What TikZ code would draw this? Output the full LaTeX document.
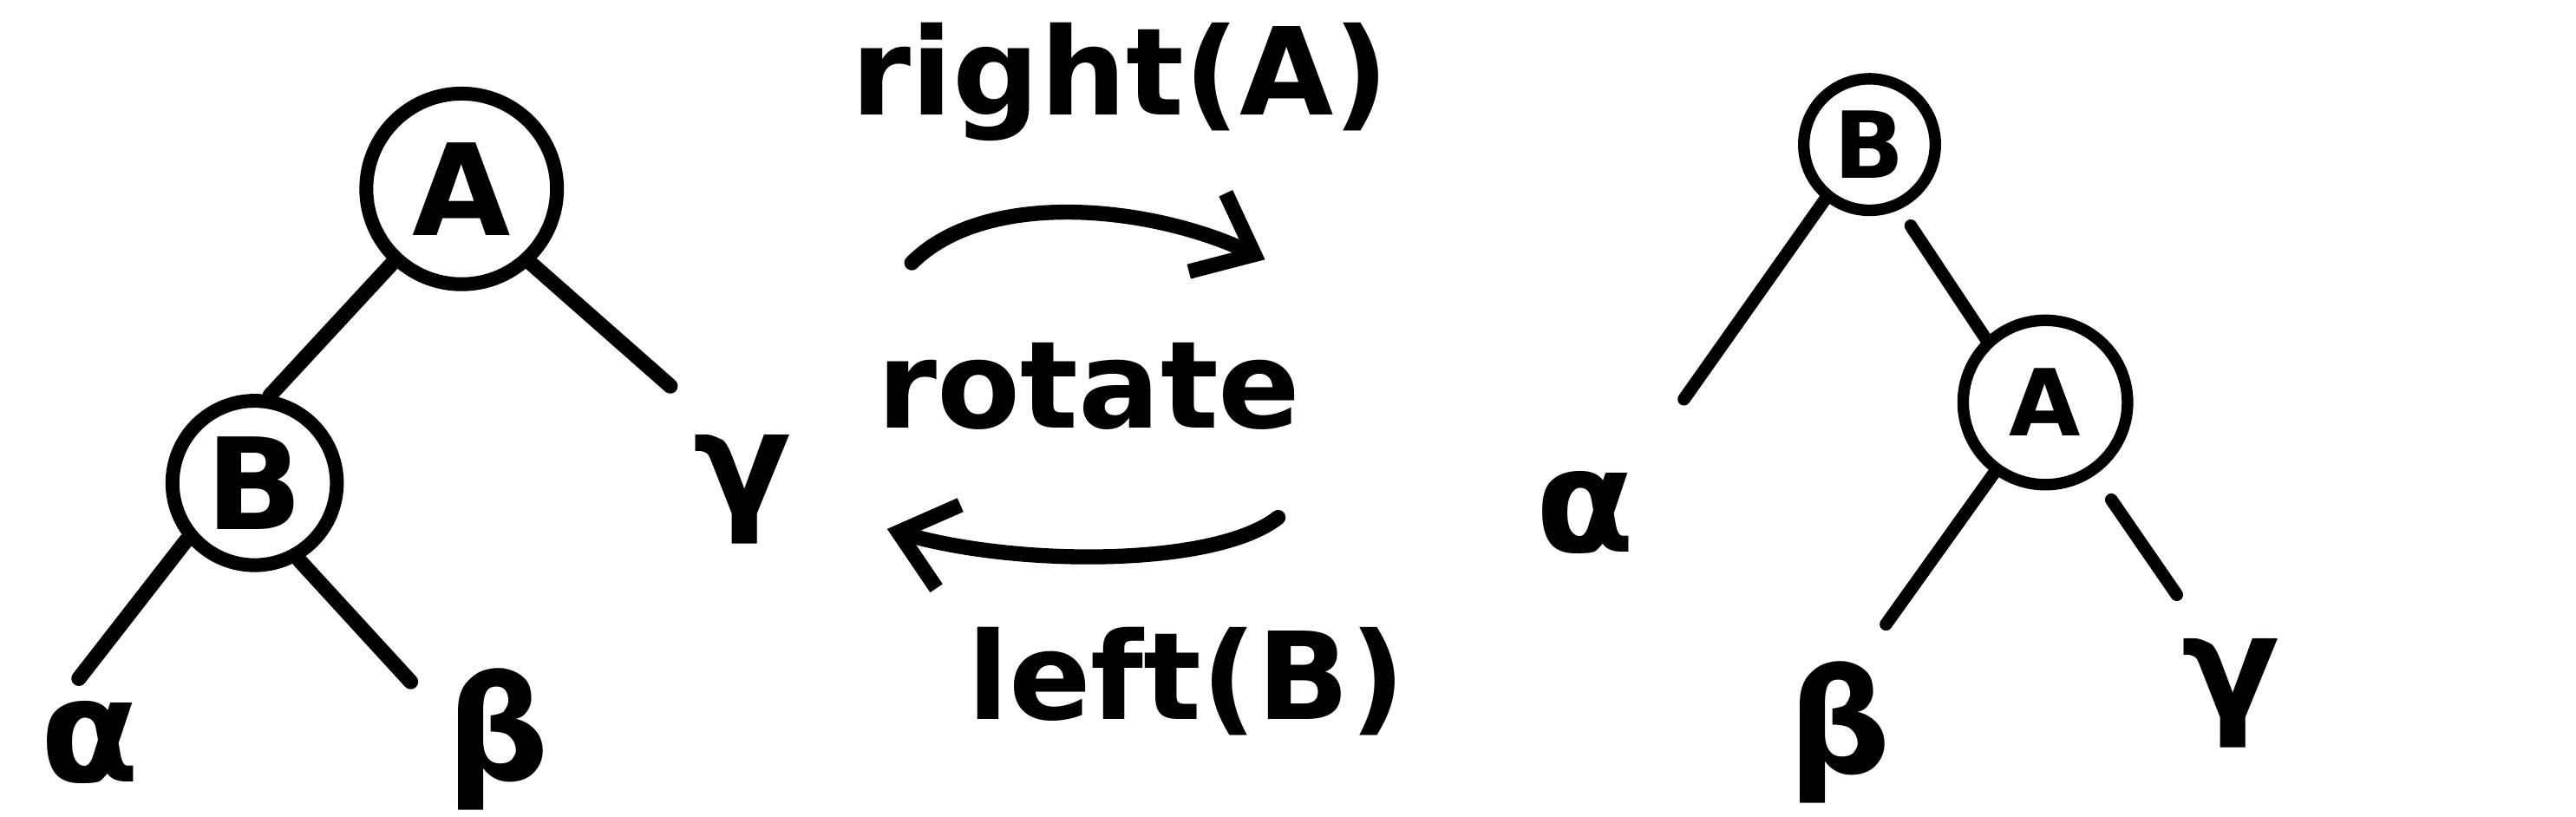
\documentclass[tikz,border=0pt]{standalone}
\usepackage{fontspec}
\setmainfont{DejaVu Sans}
\usetikzlibrary{arrows.meta}
\begin{document}
\begin{tikzpicture}[x=0.01cm,y=-0.01cm,
  ink/.style={line width=2.6pt,line cap=round,line join=round},
  treenode/.style={circle,draw,line width=2.4pt,inner sep=0pt,font=\fontsize{22}{24}\selectfont\bfseries},
  smallnode/.style={treenode,line width=2pt,font=\fontsize{16}{18}\selectfont\bfseries},
  leaf/.style={inner sep=0pt,font=\fontsize{25}{28}\selectfont\bfseries},
  opname/.style={inner sep=0pt,font=\fontsize{21}{24}\selectfont\bfseries},
  barb/.style={-{Straight Barb[length=9pt,width=15pt,line width=2.6pt]}}]
\useasboundingbox (0,0) rectangle (1568,497);
% left tree
\node[treenode,minimum size=1.16cm] (LA) at (281,115) {A};
\node[treenode,minimum size=1.0cm] (LB) at (155,294) {B};
\node[leaf] (Lg) at (452,298) {γ};
\node[leaf] (La) at (55,452) {α};
\node[leaf] (Lb) at (303,450) {β};
\coordinate (LAg) at (408,235);
\coordinate (LBa) at (48,413);
\coordinate (LBb) at (250,415);
\draw[ink] (LA.-133) -- (LB.80);
\draw[ink] (LA.-47) -- (LAg);
\draw[ink] (LB.-140) -- (LBa);
\draw[ink] (LB.-60) -- (LBb);
% middle
\node[opname] (tR) at (682,50) {right(A)};
\node[opname] (tRot) at (663,235) {rotate};
\node[opname] (tL) at (722,415) {left(B)};
\coordinate (u1) at (555,160);
\coordinate (u2) at (770,158);
\coordinate (d1) at (778,315);
\coordinate (d2) at (540,322);
\draw[ink,barb] (u1) .. controls (600,115) and (700,125) .. (u2);
\draw[ink,barb] (d1) .. controls (740,345) and (620,345) .. (d2);
% right tree
\node[smallnode,minimum size=0.8cm] (RB) at (1138,88) {B};
\node[smallnode,minimum size=1.0cm] (RA) at (1245,245) {A};
\node[leaf] (Ra) at (965,312) {α};
\node[leaf] (Rb) at (1120,446) {β};
\node[leaf] (Rg) at (1358,422) {γ};
\coordinate (RBa) at (1025,243);
\coordinate (RAb) at (1148,380);
\coordinate (RAg) at (1325,362);
\draw[ink,line width=2.2pt] (RB.-129) -- (RBa);
\draw[ink,line width=2.2pt,shorten <=0.12cm] (RB.-65) -- (RA.133);
\draw[ink,line width=2.2pt] (RA.-126) -- (RAb);
\draw[ink,line width=2.2pt,shorten <=0.18cm] (RA.-56) -- (RAg);
\end{tikzpicture}
\end{document}
